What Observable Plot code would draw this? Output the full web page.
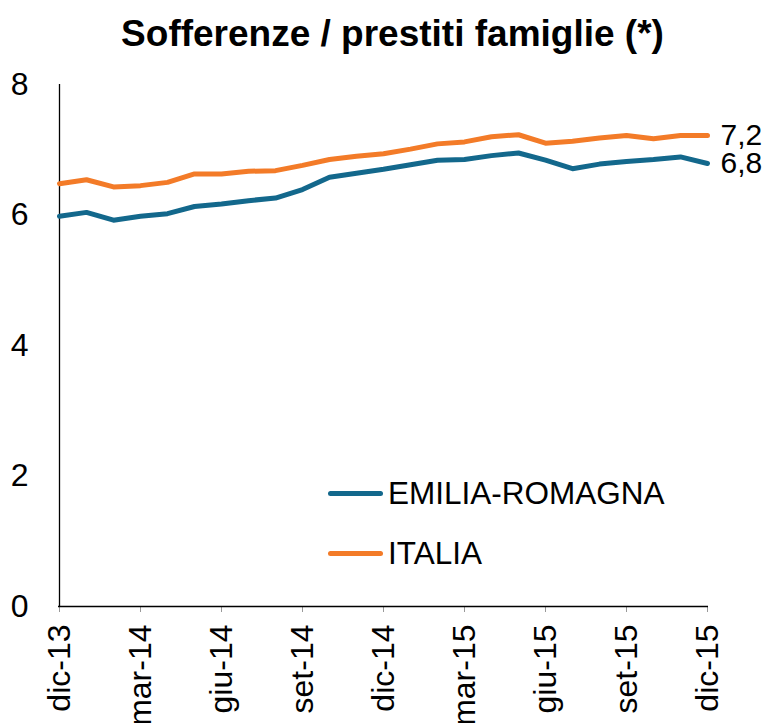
<!DOCTYPE html>
<html>
<head>
<meta charset="utf-8">
<script src="https://cdn.jsdelivr.net/npm/d3@7"></script>
<script src="https://cdn.jsdelivr.net/npm/@observablehq/plot@0.6"></script>
<style>
  html, body { margin: 0; padding: 0; background: #fff; }
  #wrap { position: relative; width: 769px; height: 723px; font-family: "Liberation Sans", Arial, sans-serif; }
  #title { height: 50px; padding-top: 14px; line-height: 40px; text-align: center; font-weight: bold; font-size: 37px; color: #000; padding-left: 16px; box-sizing: border-box; white-space: nowrap; }
  .leg { position: absolute; display: flex; align-items: center; font-size: 31.5px; color: #000; }
  .leg .sw { width: 55px; height: 5px; border-radius: 3px; margin-right: 5px; }
</style>
</head>
<body>
<div id="wrap">
  <div id="title">Sofferenze / prestiti famiglie (*)</div>
  <div id="chart"></div>
</div>
<script>
const months = ["dic-13","gen-14","feb-14","mar-14","apr-14","mag-14","giu-14","lug-14","ago-14","set-14","ott-14","nov-14","dic-14","gen-15","feb-15","mar-15","apr-15","mag-15","giu-15","lug-15","ago-15","set-15","ott-15","nov-15","dic-15"];
const tickLabels = ["dic-13","mar-14","giu-14","set-14","dic-14","mar-15","giu-15","set-15","dic-15"];
const yTicks = [0, 2, 4, 6, 8];
const seriesNames = ["EMILIA-ROMAGNA", "ITALIA"];
const seriesColors = ["#13688c", "#f37b28"];
const emilia = [5.98,6.04,5.92,5.98,6.02,6.13,6.17,6.22,6.26,6.39,6.58,6.64,6.70,6.77,6.84,6.85,6.91,6.95,6.84,6.71,6.78,6.82,6.85,6.89,6.79];
const italia = [6.48,6.54,6.43,6.45,6.50,6.63,6.63,6.67,6.68,6.76,6.85,6.90,6.94,7.01,7.09,7.12,7.20,7.23,7.10,7.13,7.18,7.22,7.17,7.22,7.22];

const seriesValues = [emilia, italia];
const rows = [];
seriesNames.forEach((s, si) => months.forEach((m, i) => rows.push({series: s, month: m, value: seriesValues[si][i]})));
const last = seriesNames.map((s, si) => ({series: s, month: months[months.length - 1], value: seriesValues[si][months.length - 1]}));

const chart = Plot.plot({
  width: 769,
  height: 673,
  marginLeft: 58,
  marginRight: 61,
  marginTop: 34,
  marginBottom: 117,
  style: {fontFamily: "Liberation Sans, Arial, sans-serif", fontSize: "32px", color: "#000", background: "#fff", overflow: "visible"},
  x: {type: "point", domain: months, padding: 0},
  y: {domain: [0, 8]},
  color: {domain: seriesNames, range: seriesColors},
  marks: [
    Plot.axisY({ticks: yTicks, tickSize: 0, tickPadding: 30, label: null, fontSize: 32}),
    Plot.axisX({ticks: tickLabels, tickRotate: -90, tickSize: 6, tickPadding: 12, label: null, fontSize: 32, stroke: "#999"}),
    Plot.ruleX([months[0]], {stroke: "#000", strokeWidth: 1.3}),
    Plot.ruleY([0], {stroke: "#000", strokeWidth: 1.3}),
    Plot.line(rows, {x: "month", y: "value", z: "series", stroke: "series", strokeWidth: 5, strokeLinejoin: "round"}),
    Plot.text(last, {x: "month", y: "value", text: d => d.value.toFixed(1).replace(".", ","), textAnchor: "start", dx: 13, fontSize: 30, fill: "#000"})
  ]
});
document.getElementById("chart").appendChild(chart);

const wrap = document.getElementById("wrap");
const legTops = [475, 535];
seriesNames.forEach((s, i) => {
  const d = document.createElement("div");
  d.className = "leg";
  d.style.left = "328px";
  d.style.top = legTops[i] + "px";
  d.style.height = "36px";
  const sw = document.createElement("span");
  sw.className = "sw";
  sw.style.background = seriesColors[i];
  const t = document.createElement("span");
  t.textContent = s;
  d.appendChild(sw);
  d.appendChild(t);
  wrap.appendChild(d);
});
</script>
</body>
</html>
